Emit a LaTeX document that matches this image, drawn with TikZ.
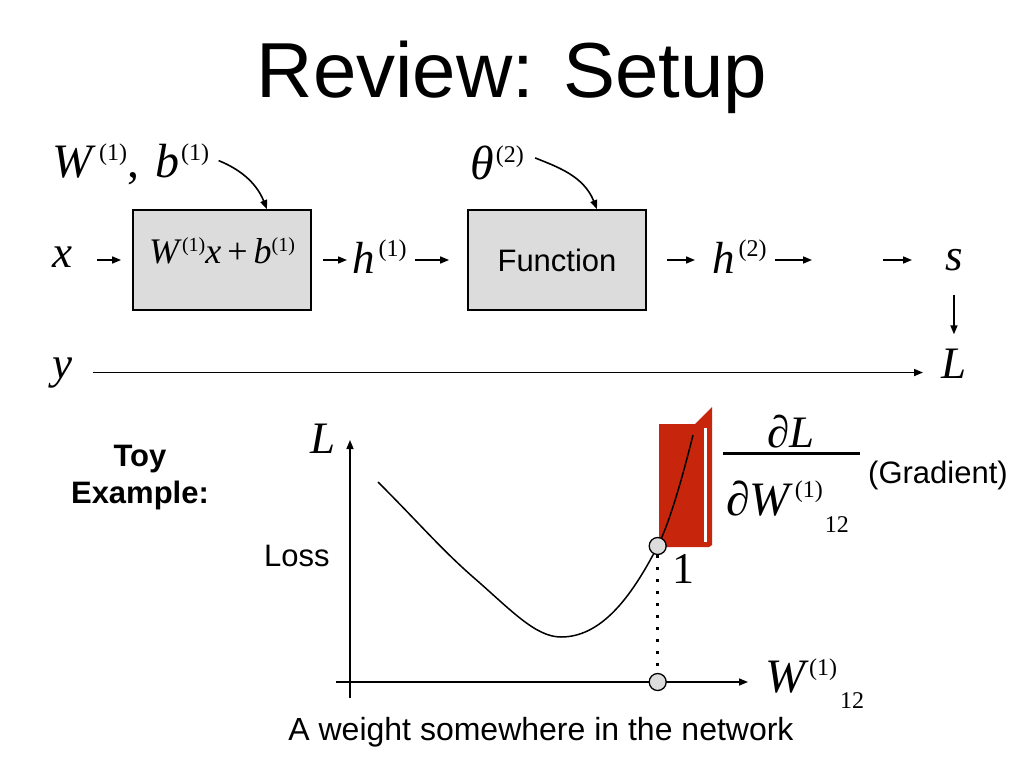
\documentclass[tikz,border=0pt]{standalone}
\usepackage{fontspec}
\setmainfont{Liberation Sans}
\newfontfamily\tms{Liberation Serif}
\usetikzlibrary{arrows.meta}
\definecolor{boxgray}{RGB}{220,220,220}
\definecolor{bookred}{RGB}{200,38,12}
\newcommand{\mv}[1]{{\tms\itshape #1}}
\newcommand{\upsc}[2]{\raisebox{#1}{\fontsize{24}{24}\selectfont\tms #2}}
\newcommand{\dnsc}[2]{\raisebox{-#1}{\fontsize{24}{24}\selectfont\tms #2}}
\tikzset{
  flow/.style={-{Triangle[length=9pt,width=7pt]},line width=1.6pt},
  axisline/.style={-{Triangle[length=9pt,width=7pt]},line width=1.5pt},
  blk/.style={draw,line width=1.8pt,fill=boxgray,minimum width=178pt,minimum height=100pt,inner sep=0pt},
  big/.style={inner sep=0pt,font=\fontsize{45}{45}\selectfont},
  bigw/.style={inner sep=0pt,font=\fontsize{48}{48}\selectfont},
  txt/.style={inner sep=0pt,font=\fontsize{31}{37}\selectfont},
  dot/.style={circle,draw,line width=1.3pt,fill=boxgray,minimum size=17pt,inner sep=0pt}
}
\begin{document}
\begin{tikzpicture}[x=1pt,y=-1pt]
  \useasboundingbox[fill=white] (0,0) rectangle (1024,768);
  \node[inner sep=0pt,anchor=base,font=\fontsize{78}{80}\selectfont] (title) at (512,97) {Review: Setup};
  % network row
  \node[bigw,anchor=base west] (wb) at (52,177) {\mv{W}\kern7pt\upsc{17pt}{(1)}{\tms,}\kern16pt\mv{b}\kern2pt\upsc{17pt}{(1)}};
  \node[bigw,anchor=base west] (th) at (470,179) {\mv{θ}\kern2pt\upsc{17pt}{(2)}};
  \node[blk,text height=53pt,text depth=47pt,font=\fontsize{36}{36}\selectfont] (box1) at (222,260)
    {\mv{W}\kern3pt\raisebox{12pt}{\fontsize{20}{20}\selectfont\tms(1)}\mv{x}{\tms\,+\,}\mv{b}\raisebox{12pt}{\fontsize{20}{20}\selectfont\tms(1)}};
  \node[blk,font=\fontsize{31}{31}\selectfont] (box2) at (557,260) {Function};
  \node[big,anchor=base west] (x) at (52,267) {\mv{x}};
  \node[big,anchor=base west] (h1) at (352,273) {\mv{h}\kern4pt\upsc{17pt}{(1)}};
  \node[big,anchor=base west] (h2) at (712,273) {\mv{h}\kern4pt\upsc{17pt}{(2)}};
  \node[big,anchor=base west] (s) at (945,270) {\mv{s}};
  \node[big,anchor=base west] (y) at (52,378) {\mv{y}};
  \node[big,anchor=base west] (L) at (941,378) {\mv{L}};
  \coordinate (gapa) at (812,260);
  \coordinate (gapb) at (883,260);
  \draw[flow,shorten <=25pt,shorten >=11pt] (x.east |- box1.west) -- (box1.west);
  \draw[flow,shorten <=11pt,shorten >=5pt] (box1.east) -- (box1.east -| h1.west);
  \draw[flow,shorten <=8pt,shorten >=18pt] (h1.east |- box2.west) -- (box2.west);
  \draw[flow,shorten <=20pt,shorten >=17pt] (box2.east) -- (box2.east -| h2.west);
  \draw[flow,shorten <=8pt] (h2.east |- gapa) -- (gapa);
  \draw[flow,shorten >=33pt] (gapb) -- (gapb -| s.west);
  \draw[flow,shorten <=24pt,shorten >=14pt] (s.south) -- (s.south |- L.north);
  \draw[flow,shorten <=21pt,shorten >=18pt] (y.east) -- (y.east -| L.west);
  \draw[flow,shorten <=10pt] ([yshift=7pt]wb.east) to[out=-22,in=112] ([xshift=45pt]box1.north); % params in
  \draw[flow,shorten <=12pt] ([yshift=9pt]th.east) to[out=-22,in=112] ([xshift=40pt]box2.north);
  % toy example
  \node[align=center,inner sep=0pt,font=\fontsize{31}{37}\selectfont\bfseries] (toy) at (140,478) {Toy\\Example:};
  \coordinate (ytop) at (350,440);
  \coordinate (ybot) at (350,698);
  \coordinate (xl) at (336,682);
  \coordinate (xr) at (748,682);
  \fill[bookred] (659,424) -- (695,424) -- (712,407) -- (712,545) -- (709,547) -- (659,547) -- cycle; % book
  \fill[white] (704,428) rectangle (707,542);
  \draw[axisline] (ybot) -- (ytop);
  \draw[axisline] (xl) -- (xr);
  \draw[line width=1.5pt] (378,482) .. controls (420,524) and (440,548) .. (473,577)
    .. controls (510,609) and (535,637) .. (561,637)
    .. controls (600,637) and (630,600) .. (657.7,546)
    .. controls (670,522) and (683,475) .. (693,435); % loss curve
  \node[dot] (p1) at (657.7,546) {};
  \node[dot] (p0) at (657.7,682) {};
  \draw[line width=3pt,dash pattern=on 3pt off 9pt] (p1.south) -- (p0.north);
  \node[big,anchor=base west] (Lax) at (310,453) {\mv{L}};
  \node[txt,anchor=base west] (loss) at (264,566) {Loss};
  \node[inner sep=0pt,anchor=base west,font=\fontsize{44}{44}\selectfont\tms] (one) at (672,583) {1};
  % gradient
  \node[big,anchor=base] (dL) at (791,447) {\mv{∂L}};
  \draw[line width=3pt] (723,453) -- (860,453);
  \node[bigw,anchor=base west] (dW) at (726,515) {\mv{∂W}\kern5pt\upsc{18pt}{(1)}\kern2pt\dnsc{17pt}{12}};
  \node[txt,anchor=base west] (grad) at (868,483) {(Gradient)};
  \node[bigw,anchor=base west] (wax) at (765,692) {\mv{W}\kern4pt\upsc{17pt}{(1)}\kern3pt\dnsc{16pt}{12}};
  \node[txt,anchor=base,font=\fontsize{32}{37}\selectfont] (wtxt) at (541,740) {A weight somewhere in the network};
\end{tikzpicture}
\end{document}
